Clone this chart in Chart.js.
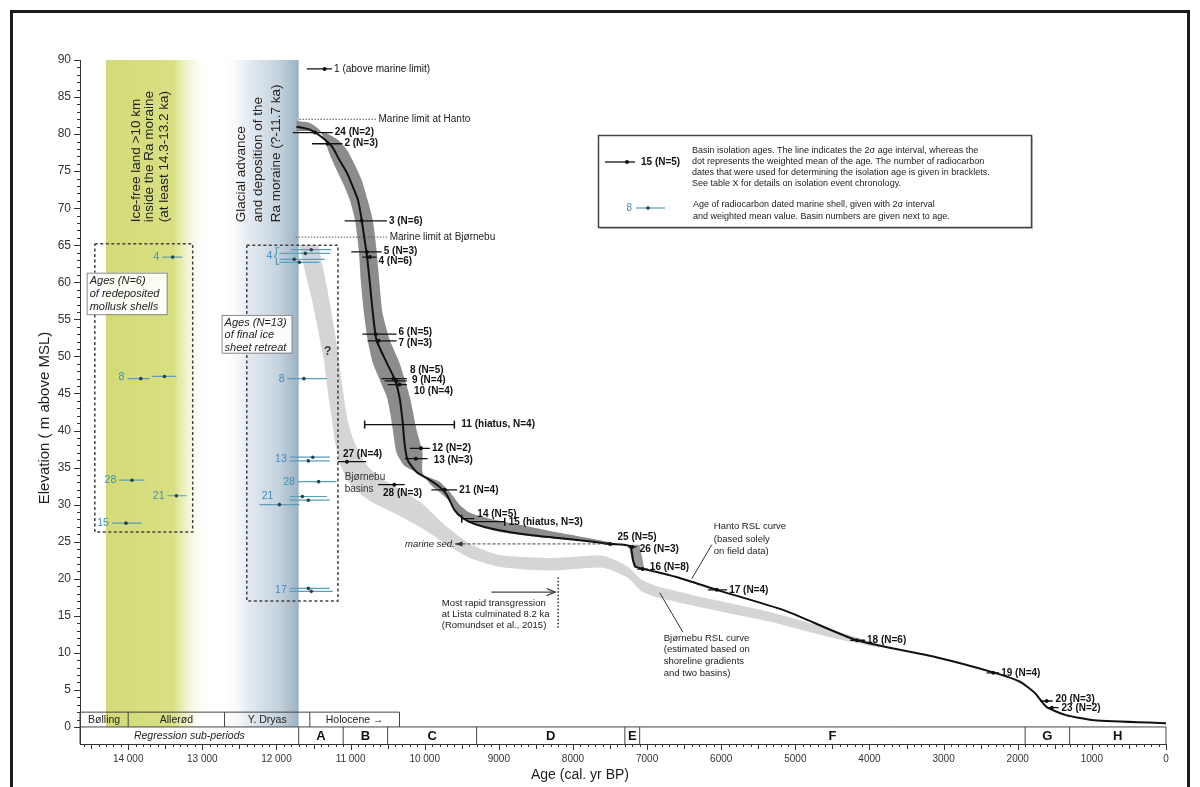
<!DOCTYPE html>
<html>
<head>
<meta charset="utf-8">
<script src="https://cdn.jsdelivr.net/npm/chart.js@4.4.1/dist/chart.umd.min.js"></script>
<style>
  html, body { margin: 0; padding: 0; background: #fff; }
  #wrap { position: absolute; left: 0; top: 0; width: 1200px; height: 787px; overflow: hidden; }
  #frame { position: absolute; left: 10px; top: 10px; width: 1180px; height: 800px;
           border: 3px solid #1b1b1b; border-bottom: none; box-sizing: border-box; pointer-events: none; }
  canvas { position: absolute; left: 0; top: 0; }
</style>
</head>
<body>
<div id="wrap">
  <canvas id="rsl" width="1200" height="787"></canvas>
  <div id="frame"></div>
</div>
<script>
// ---------------------------------------------------------------------------
// Relative sea-level data, Hanto / Bjørnebu (age in cal. yr BP, elevation in m)
// ---------------------------------------------------------------------------
const AGE_MAX = 14650;
const ELEV_MIN = -2.3;
const ELEV_MAX = 90;
const ageTicks  = [14000,13000,12000,11000,10000,9000,8000,7000,6000,5000,4000,3000,2000,1000,0];
const elevTicks = [0,5,10,15,20,25,30,35,40,45,50,55,60,65,70,75,80,85,90];

// Hanto RSL curve (centre line)
const hantoAge  = [11730,11550,11390,11250,11150,11050,10970,10900,10850,10810,10780,10740,10700,10650,10510,10400,10340,10300,10270,10230,10110,9930,9800,9700,9600,9490,9330,9030,8580,7910,7500,7230,7190,7150,6990,6560,6060,5140,4170,3100,2310,1970,1770,1610,1350,970,0];
const hantoElev = [81.0,80.6,79.6,78.3,76.5,74.8,72.9,71.1,68.4,65.7,63.7,59.9,55.9,52.2,49.1,46.8,44.5,41.4,38.1,36.0,34.4,33.3,32.4,31.3,29.3,28.2,27.4,26.6,25.9,25.2,24.7,24.4,22.5,21.6,21.2,20.1,18.5,15.7,11.7,9.4,7.3,6.1,4.6,2.7,1.6,0.9,0.5];

// Hanto uncertainty envelope (outline: old/upper edge down, then young/lower edge back up)
const hantoEnvAge  = [11730,11550,11420,11350,11280,11190,11090,11010,10940,10890,10860,10820,10770,10700,10580,10510,10460,10430,10380,10270,10000,9800,9660,9530,9390,9120,8720,8180,7640,7400,
                      7400,7910,8450,8990,9260,9420,9540,9660,9800,9930,10030,10030,10110,10200,10340,10470,10570,10610,10650,10700,10770,10850,10940,11050,11170,11350,11550,11730];
const hantoEnvElev = [81.8,81.5,80.6,79.2,77.2,75.2,73.1,71.1,68.4,64.4,59.9,55.9,52.2,49.1,46.2,44.5,42.1,40.1,37.0,35.2,33.9,33.1,31.7,30.0,28.9,28.1,27.3,26.2,25.2,24.7,
                      24.6,25.1,25.6,26.3,27.0,27.7,28.7,30.4,31.7,32.8,34.4,37.0,40.1,44.5,49.1,52.2,55.9,59.9,64.4,68.4,71.1,73.8,75.8,77.9,79.2,80.2,80.4,80.4];

// Hanto envelope across the sub-period E step
const hantoStepAge  = [7250, 7100, 7040, 7180];
const hantoStepElev = [24.6, 24.6, 21.5, 21.5];

// Bjørnebu RSL curve envelope (outline)
const bjornEnvAge  = [11690,11620,11520,11440,11360,11310,11250,11210,11130,10990,10740,10380,10070,9700,9390,8990,8270,7600,7270,7060,6830,6250,5340,4530,3860,
                      3860,4530,5340,6250,6830,7060,7270,7600,8270,8990,9390,9700,10030,10340,10610,10800,10960,11040,11110,11170,11240,11320,11390,11430];
const bjornEnvElev = [65.0,61.7,57.6,53.6,49.5,45.5,41.4,38.5,35.2,32.5,30.5,28.7,27.0,24.6,22.8,21.6,21.1,21.5,20.2,18.2,17.4,16.1,14.2,12.1,10.7,
                      11.1,13.2,15.5,17.5,18.9,19.8,21.7,23.1,22.8,23.2,24.7,27.0,30.1,32.1,33.7,35.6,38.7,41.4,45.9,50.5,54.9,59.4,62.8,65.0];

// Basin isolation ages: 2σ interval (old → young), weighted mean, elevation
const basinTag   = ['1 (above marine limit)','24 (N=2)','2 (N=3)','3 (N=6)','5 (N=3)','4 (N=6)','6 (N=5)','7 (N=3)','8 (N=5)','9 (N=4)','10 (N=4)','11 (hiatus, N=4)','12 (N=2)','13 (N=3)','27 (N=4)','28 (N=3)','21 (N=4)','14 (N=5)','15 (hiatus, N=3)','25 (N=5)','26 (N=3)','16 (N=8)','17 (N=4)','18 (N=6)','19 (N=4)','20 (N=3)','23 (N=2)'];
const basinElev  = [88.8,80.2,78.7,68.3,64.1,63.4,53.0,52.1,47.0,46.7,46.2,40.8,37.6,36.2,35.8,32.7,32.0,28.1,27.7,24.7,24.3,21.3,18.5,11.7,7.3,3.5,2.6];
const basinOld   = [11590,11780,11520,11080,10990,10840,10840,10770,10580,10540,10500,10810,10200,10270,11170,10630,9910,9500,9420,7570,7260,7130,6180,4260,2420,1700,1620];
const basinYoung = [11250,11240,11110,10510,10580,10650,10380,10380,10240,10240,10240,9600,9930,9960,10790,10270,9560,9330,8920,7440,7140,6990,5920,4060,2250,1530,1450];
const basinMean  = [11350,11480,11310,10850,10780,10740,10660,10620,10420,10380,10340,null,10050,10120,11050,10410,9730,null,null,7500,7200,7060,6060,4170,2330,1610,1540];
const basinCap   = ['','','','','','','','','','','','both','','','','','','left','right','','','','','','','',''];

// Radiocarbon-dated marine shells: 2σ interval, mean, elevation; '' continues the basin above
const shellTag   = ['4','8','','28','21','15',  '4','','','','8','13','','28','21','','','17',''];
const shellElev  = [63.4,47.0,47.3,33.3,31.2,27.5,  64.4,63.9,63.1,62.7,47.0,36.4,35.9,33.1,31.1,30.6,30.0,18.7,18.3];
const shellOld   = [13540,14010,13680,14120,13470,14220,  11800,11960,11960,11960,11850,11820,11820,11710,11820,11820,12230,11820,11820];
const shellYoung = [13270,13710,13350,13780,13210,13820,  11260,11280,11350,11420,11320,11280,11280,11190,11320,11280,11690,11280,11240];
const shellMean  = [13400,13830,13510,13950,13350,14030,  11530,11610,11760,11690,11630,11510,11570,11430,11650,11570,11960,11570,11530];

// Climate periods and regression sub-periods (boundaries in cal. yr BP)
const climateNames  = ['Bølling','Allerød','Y. Dryas','Holocene →'];
const climateBounds = [14650,14000,12700,11550,10340];
const periodNames   = ['Regression sub-periods','A','B','C','D','E','F','G','H'];
const periodBounds  = [14650,11700,11100,10500,9300,7300,7100,1900,1300,0];

// Background zones: ice-free land (start, fully coloured until, faded by) and glacial advance
const zoneIceFree = [14300, 13380, 12920];
const zoneGlacial = [12750, 11700];

// ---------------------------------------------------------------------------
const FONT = '"Liberation Sans", Arial, Helvetica, sans-serif';
const SHELL_LINE = '#5a9fbb';
const SHELL_TEXT = '#3d8dc0';

function fmtAge(v) {
  if (v >= 10000) return Math.floor(v / 1000) + ' ' + String(v % 1000).padStart(3, '0');
  return String(v);
}
const pts = (xs, ys) => xs.map((x, i) => ({ x, y: ys[i] }));
function segments(olds, youngs, elevs) {
  const out = [];
  olds.forEach((o, i) => {
    out.push({ x: o, y: elevs[i] }, { x: youngs[i], y: elevs[i] }, { x: youngs[i], y: null });
  });
  return out;
}
function means(ms, elevs) {
  const out = [];
  ms.forEach((m, i) => { if (m !== null) out.push({ x: m, y: elevs[i] }); });
  return out;
}

function txt(ctx, s, x, y, font, color, align, base) {
  ctx.font = font;
  ctx.fillStyle = color || '#222';
  ctx.textAlign = align || 'left';
  ctx.textBaseline = base || 'middle';
  ctx.fillText(s, x, y);
}
function line(ctx, pts, color, width, dash) {
  ctx.beginPath();
  ctx.setLineDash(dash || []);
  ctx.strokeStyle = color; ctx.lineWidth = width;
  pts.forEach((p, i) => i ? ctx.lineTo(p[0], p[1]) : ctx.moveTo(p[0], p[1]));
  ctx.stroke();
  ctx.setLineDash([]);
}

// label nudges in px for the basin isolation labels
const basinNudge = {
  '5 (N=3)': [0, -1], '4 (N=6)': [0, 4], '6 (N=5)': [0, -2], '7 (N=3)': [0, 2],
  '8 (N=5)': [1, -8], '9 (N=4)': [3, -1], '10 (N=4)': [5, 7], '11 (hiatus, N=4)': [5, 0],
  '13 (N=3)': [4, 2], '14 (N=5)': [1, -4], '15 (hiatus, N=3)': [2, 1], '25 (N=5)': [1, -7],
  '26 (N=3)': [1, 2], '16 (N=8)': [0, -2], '20 (N=3)': [1, -2], '23 (N=2)': [1, 1]
};
const basinAtOldEnd = { '27 (N=4)': [5, -7], '28 (N=3)': [5, 9] };
const shellNudge = { 14: [17, -4] };
const shellBracket = [6];

const decor = {
  id: 'decor',
  beforeDatasetsDraw(chart) {
    const { ctx, scales: { x, y } } = chart;
    const X = v => x.getPixelForValue(v), Y = v => y.getPixelForValue(v);
    ctx.save();
    // ice-free land zone
    let l = X(zoneIceFree[0]), r = X(zoneIceFree[2]);
    let g = ctx.createLinearGradient(l, 0, r, 0);
    g.addColorStop(0, '#d3da76');
    g.addColorStop((X(zoneIceFree[1]) - l) / (r - l), '#d9e084');
    g.addColorStop(1, 'rgba(255,255,255,0)');
    ctx.fillStyle = g;
    ctx.fillRect(l, Y(ELEV_MAX), r - l, Y(0) - Y(ELEV_MAX));
    // glacial advance zone
    l = X(zoneGlacial[0]); r = X(zoneGlacial[1]);
    g = ctx.createLinearGradient(l, 0, r, 0);
    g.addColorStop(0, 'rgba(255,255,255,0)');
    g.addColorStop(0.35, '#e4ebf1');
    g.addColorStop(0.75, '#c4d2dd');
    g.addColorStop(1, '#9bb1c2');
    ctx.fillStyle = g;
    ctx.fillRect(l, Y(ELEV_MAX), r - l, Y(0) - Y(ELEV_MAX));

    // rotated zone captions
    const caps = [
      { lines: ['Ice-free land >10 km', 'inside the Ra moraine', '(at least 14.3-13.2 ka)'], at: [13890, 13710, 13510] },
      { lines: ['Glacial advance', 'and deposition of the', 'Ra moraine (?-11.7 ka)'], at: [12470, 12250, 12000] }
    ];
    caps.forEach(c => c.lines.forEach((s, i) => {
      ctx.save();
      ctx.translate(X(c.at[i]), Y(68.1));
      ctx.rotate(-Math.PI / 2);
      txt(ctx, s, 0, 0, '13.5px ' + FONT, '#1e1e1e', 'left', 'middle');
      ctx.restore();
    }));
    ctx.restore();
  },

  afterDatasetsDraw(chart) {
    const { ctx, chartArea: a, scales: { x, y } } = chart;
    const X = v => x.getPixelForValue(v), Y = v => y.getPixelForValue(v);
    ctx.save();

    // end caps on hiatus intervals
    basinTag.forEach((t, i) => {
      const c = basinCap[i]; if (!c) return;
      const yy = Y(basinElev[i]);
      if (c === 'both' || c === 'left') line(ctx, [[X(basinOld[i]), yy - 4], [X(basinOld[i]), yy + 4]], '#111', 1.5);
      if (c === 'both' || c === 'right') line(ctx, [[X(basinYoung[i]), yy - 4], [X(basinYoung[i]), yy + 4]], '#111', 1.5);
    });

    // basin labels
    basinTag.forEach((t, i) => {
      const yy = Y(basinElev[i]);
      const bold = t.indexOf('above') < 0;
      const f = (bold ? 'bold ' : '') + '10px ' + FONT;
      if (basinAtOldEnd[t]) {
        const [dx, dy] = basinAtOldEnd[t];
        txt(ctx, t, X(basinOld[i]) + dx, yy + dy, f, '#111');
      } else {
        const [dx, dy] = basinNudge[t] || [0, 0];
        txt(ctx, t, X(basinYoung[i]) + 2 + dx, yy + dy, f, '#111');
      }
    });

    // shell labels (one per basin group)
    let i = 0;
    while (i < shellTag.length) {
      let j = i + 1;
      while (j < shellTag.length && shellTag[j] === '') j++;
      let ys = 0, left = Infinity, top = Infinity, bot = -Infinity;
      for (let k = i; k < j; k++) {
        const yy = Y(shellElev[k]);
        ys += yy; left = Math.min(left, X(shellOld[k]));
        top = Math.min(top, yy); bot = Math.max(bot, yy);
      }
      let ax = left - 3, ay = ys / (j - i);
      if (shellBracket.includes(i)) {
        const bx = left - 3;
        ctx.beginPath(); ctx.strokeStyle = SHELL_LINE; ctx.lineWidth = 1.2;
        ctx.moveTo(bx + 3, top - 2); ctx.lineTo(bx, top - 2); ctx.lineTo(bx, ay - 2);
        ctx.lineTo(bx - 2, ay); ctx.lineTo(bx, ay + 2); ctx.lineTo(bx, bot + 2); ctx.lineTo(bx + 3, bot + 2);
        ctx.stroke();
        ax = bx - 4;
      }
      const [dx, dy] = shellNudge[i] || [0, 0];
      txt(ctx, shellTag[i], ax + dx, ay + dy, '10.5px ' + FONT, SHELL_TEXT, 'right');
      i = j;
    }

    // marine limits
    line(ctx, [[X(11690), Y(82.0)], [X(10650), Y(82.0)]], '#555', 1, [1.5, 1.5]);
    txt(ctx, 'Marine limit at Hanto', X(10650) + 2, Y(82.0), '10px ' + FONT, '#222');
    line(ctx, [[X(11740), Y(66.1)], [X(10500), Y(66.1)]], '#555', 1, [1.5, 1.5]);
    txt(ctx, 'Marine limit at Bjørnebu', X(10500) + 2, Y(66.1), '10px ' + FONT, '#222');

    // dashed sample boxes
    line(ctx, [[X(14450), Y(65.2)], [X(13130), Y(65.2)], [X(13130), Y(26.3)], [X(14450), Y(26.3)], [X(14450), Y(65.2)]], '#444', 1.5, [3, 2.5]);
    line(ctx, [[X(12400), Y(65.0)], [X(11170), Y(65.0)], [X(11170), Y(17.0)], [X(12400), Y(17.0)], [X(12400), Y(65.0)]], '#444', 1.5, [3, 2.5]);

    // caption boxes
    const boxes = [
      { a: [14560, 13480], e: [61.3, 55.7], lines: ['Ages (N=6)', 'of redeposited', 'mollusk shells'], step: 13 },
      { a: [12740, 11795], e: [55.6, 50.5], lines: ['Ages (N=13)', 'of final ice', 'sheet retreat'], step: 12.5 }
    ];
    boxes.forEach(b => {
      const x0 = X(b.a[0]), x1 = X(b.a[1]), y0 = Y(b.e[0]), y1 = Y(b.e[1]);
      ctx.fillStyle = 'rgba(255,255,255,0.92)';
      ctx.fillRect(x0, y0, x1 - x0, y1 - y0);
      ctx.strokeStyle = '#8a8a8a'; ctx.lineWidth = 1;
      ctx.strokeRect(x0 + 0.5, y0 + 0.5, x1 - x0, y1 - y0);
      b.lines.forEach((s, k) => txt(ctx, s, x0 + 3, y0 + 8 + k * b.step, 'italic 11px ' + FONT, '#222'));
    });

    txt(ctx, '?', X(11310), Y(50.6), 'bold 12px ' + FONT, '#333', 'center');
    txt(ctx, 'Bjørnebu', X(11080), Y(33.7), '10px ' + FONT, '#333');
    txt(ctx, 'basins', X(11080), Y(32.1), '10px ' + FONT, '#333');

    // marine sediments marker
    txt(ctx, 'marine sed.', X(9595), Y(24.7), 'italic 9.5px ' + FONT, '#222', 'right');
    line(ctx, [[X(9490), Y(24.7)], [X(7560), Y(24.7)]], '#444', 1, [3, 2]);
    ctx.beginPath(); ctx.fillStyle = '#333';
    ctx.moveTo(X(9590), Y(24.7)); ctx.lineTo(X(9490), Y(24.7) - 2.5); ctx.lineTo(X(9490), Y(24.7) + 2.5); ctx.closePath(); ctx.fill();
    line(ctx, [[X(9590), Y(24.7)], [X(9490), Y(24.7)]], '#333', 1);

    // most rapid transgression
    line(ctx, [[X(9100), Y(18.2)], [X(8240), Y(18.2)]], '#444', 1.3);
    line(ctx, [[X(8300) - 4, Y(18.2) - 3.5], [X(8240), Y(18.2)], [X(8300) - 4, Y(18.2) + 3.5]], '#444', 1.3);
    line(ctx, [[X(8200), Y(20.2)], [X(8200), Y(13.4)]], '#333', 1.6, [1.5, 2]);
    ['Most rapid transgression', 'at Lista culminated 8.2 ka', '(Romundset et al., 2015)'].forEach((s, k) =>
      txt(ctx, s, X(9770), Y(16.7) + k * 11, '9.5px ' + FONT, '#222'));

    // curve labels and pointers
    ['Hanto RSL curve', '(based solely', 'on field data)'].forEach((s, k) =>
      txt(ctx, s, X(6100), Y(27.0) + k * 12.5, '9.5px ' + FONT, '#222'));
    line(ctx, [[X(6127), Y(24.6)], [X(6397), Y(20.0)]], '#333', 1);
    ['Bjørnebu RSL curve', '(estimated based on', 'shoreline gradients', 'and two basins)'].forEach((s, k) =>
      txt(ctx, s, X(6775), Y(12.0) + k * 11.7, '9.5px ' + FONT, '#222'));
    line(ctx, [[X(6829), Y(18.1)], [X(6518), Y(12.8)]], '#333', 1);

    // climate period row
    const yTop = Y(2.0), y0 = Y(0), yb = a.bottom;
    line(ctx, [[X(climateBounds[0]), yTop], [X(climateBounds[climateBounds.length - 1]), yTop]], '#444', 1);
    climateBounds.forEach(b => line(ctx, [[X(b), yTop], [X(b), y0]], '#444', 1));
    climateNames.forEach((n, k) =>
      txt(ctx, n, (X(climateBounds[k]) + X(climateBounds[k + 1])) / 2, (yTop + y0) / 2 + 0.5, '10.5px ' + FONT, '#222', 'center'));
    // regression sub-period row
    line(ctx, [[X(periodBounds[0]), y0], [X(0), y0]], '#444', 1);
    periodBounds.forEach(b => line(ctx, [[X(b), y0], [X(b), yb]], '#444', 1));
    periodNames.forEach((n, k) => {
      const cx = (X(periodBounds[k]) + X(periodBounds[k + 1])) / 2;
      if (k === 0) txt(ctx, n, cx, (y0 + yb) / 2 + 0.5, 'italic 10.5px ' + FONT, '#222', 'center');
      else txt(ctx, n, cx, (y0 + yb) / 2 + 0.5, 'bold 13px ' + FONT, '#111', 'center');
    });
    ctx.restore();
  },

  afterDraw(chart) {
    const { ctx, chartArea: a, scales: { x, y } } = chart;
    const X = v => x.getPixelForValue(v), Y = v => y.getPixelForValue(v);
    ctx.save();
    // minor / major ticks
    for (let v = 0; v <= 14600; v += 100) {
      const len = v % 1000 === 0 ? 6 : (v % 500 === 0 ? 5 : 3);
      line(ctx, [[Math.round(X(v)) + 0.5, a.bottom], [Math.round(X(v)) + 0.5, a.bottom + len]], '#333', 1);
    }
    for (let v = 0; v <= 90; v += 1) {
      const len = v % 5 === 0 ? 6 : 3;
      line(ctx, [[a.left, Math.round(Y(v)) + 0.5], [a.left - len, Math.round(Y(v)) + 0.5]], '#333', 1);
    }
    // axis titles
    txt(ctx, 'Age (cal. yr BP)', 580, 775, '14px ' + FONT, '#1e1e1e', 'center');
    ctx.save();
    ctx.translate(45, 418); ctx.rotate(-Math.PI / 2);
    txt(ctx, 'Elevation ( m above MSL)', 0, 0, '15px ' + FONT, '#1e1e1e', 'center');
    ctx.restore();

    // legend
    const L = 598, T = 135, W = 433, H = 92;
    ctx.fillStyle = '#c8c8c8'; ctx.fillRect(L + 2, T + 2, W, H);
    ctx.fillStyle = '#fff'; ctx.fillRect(L, T, W, H);
    ctx.strokeStyle = '#444'; ctx.lineWidth = 1.5; ctx.strokeRect(L + 0.5, T + 0.5, W, H);
    line(ctx, [[605, 162], [635, 162]], '#111', 1.3);
    ctx.beginPath(); ctx.fillStyle = '#111'; ctx.arc(627, 162, 2, 0, Math.PI * 2); ctx.fill();
    txt(ctx, '15 (N=5)', 641, 162, 'bold 10px ' + FONT, '#111');
    ['Basin isolation ages. The line indicates the 2σ age interval, whereas the',
     'dot represents the weighted mean of the age. The number of radiocarbon',
     'dates that were used for determining the isolation age is given in bracklets.',
     'See table X for details on isolation event chronology.'].forEach((s, k) =>
      txt(ctx, s, 692, 151 + k * 11, '9px ' + FONT, '#222'));
    txt(ctx, '8', 632, 208, '10px ' + FONT, SHELL_TEXT, 'right');
    line(ctx, [[636, 208], [665, 208]], SHELL_LINE, 1.2);
    ctx.beginPath(); ctx.fillStyle = '#24424f'; ctx.arc(648, 208, 1.8, 0, Math.PI * 2); ctx.fill();
    ['Age of radiocarbon dated marine shell, given with 2σ interval',
     'and weighted mean value. Basin numbers are given next to age.'].forEach((s, k) =>
      txt(ctx, s, 693, 205 + k * 12, '9px ' + FONT, '#222'));
    ctx.restore();
  }
};

const chart = new Chart(document.getElementById('rsl'), {
  type: 'scatter',
  data: {
    datasets: [
      { label: 'Bjørnebu RSL curve', data: pts(bjornEnvAge, bjornEnvElev), showLine: true, fill: 'shape',
        backgroundColor: '#d5d5d5', borderWidth: 0, borderColor: 'rgba(0,0,0,0)', pointRadius: 0, tension: 0.2, order: 10 },
      { label: 'Hanto envelope', data: pts(hantoEnvAge, hantoEnvElev), showLine: true, fill: 'shape',
        backgroundColor: '#8c8c8c', borderWidth: 0, borderColor: 'rgba(0,0,0,0)', pointRadius: 0, tension: 0.2, order: 9 },
      { label: 'Hanto envelope E', data: pts(hantoStepAge, hantoStepElev), showLine: true, fill: 'shape',
        backgroundColor: '#9a9a9a', borderWidth: 0, borderColor: 'rgba(0,0,0,0)', pointRadius: 0, tension: 0, order: 9 },
      { label: 'Hanto RSL curve', data: pts(hantoAge, hantoElev), showLine: true, fill: false,
        borderColor: '#111', borderWidth: 2, pointRadius: 0, tension: 0.2, order: 6 },
      { label: 'Basin isolation intervals', data: segments(basinOld, basinYoung, basinElev), showLine: true, fill: false,
        spanGaps: false, borderColor: '#111', borderWidth: 1.3, pointRadius: 0, tension: 0, order: 4 },
      { label: 'Basin isolation means', data: means(basinMean, basinElev), showLine: false,
        pointRadius: 2, pointBackgroundColor: '#111', pointBorderWidth: 0, order: 2 },
      { label: 'Shell intervals', data: segments(shellOld, shellYoung, shellElev), showLine: true, fill: false,
        spanGaps: false, borderColor: SHELL_LINE, borderWidth: 1.2, pointRadius: 0, tension: 0, order: 4 },
      { label: 'Shell means', data: means(shellMean, shellElev), showLine: false,
        pointRadius: 1.8, pointBackgroundColor: '#24424f', pointBorderWidth: 0, order: 2 }
    ]
  },
  options: {
    responsive: false,
    animation: false,
    devicePixelRatio: 1,
    events: [],
    layout: { padding: { left: 0, right: 34, top: 60, bottom: 0 } },
    plugins: { legend: { display: false }, tooltip: { enabled: false } },
    scales: {
      x: {
        type: 'linear', reverse: true, min: 0, max: AGE_MAX, position: 'bottom',
        afterFit(s) { s.height = 43; },
        afterBuildTicks(s) { s.ticks = ageTicks.map(v => ({ value: v })); },
        grid: { display: false, drawTicks: false },
        border: { display: true, color: '#333', width: 1 },
        ticks: { autoSkip: false, maxRotation: 0, padding: 9,
                 color: '#333', font: { family: FONT, size: 10 }, callback: v => fmtAge(v) }
      },
      y: {
        type: 'linear', min: ELEV_MIN, max: ELEV_MAX,
        afterFit(s) { s.width = 80; },
        afterBuildTicks(s) { s.ticks = elevTicks.map(v => ({ value: v })); },
        grid: { display: false, drawTicks: false },
        border: { display: true, color: '#333', width: 1 },
        ticks: { autoSkip: false, padding: 9, color: '#333', font: { family: FONT, size: 12 } }
      }
    }
  },
  plugins: [decor]
});
</script>
</body>
</html>
